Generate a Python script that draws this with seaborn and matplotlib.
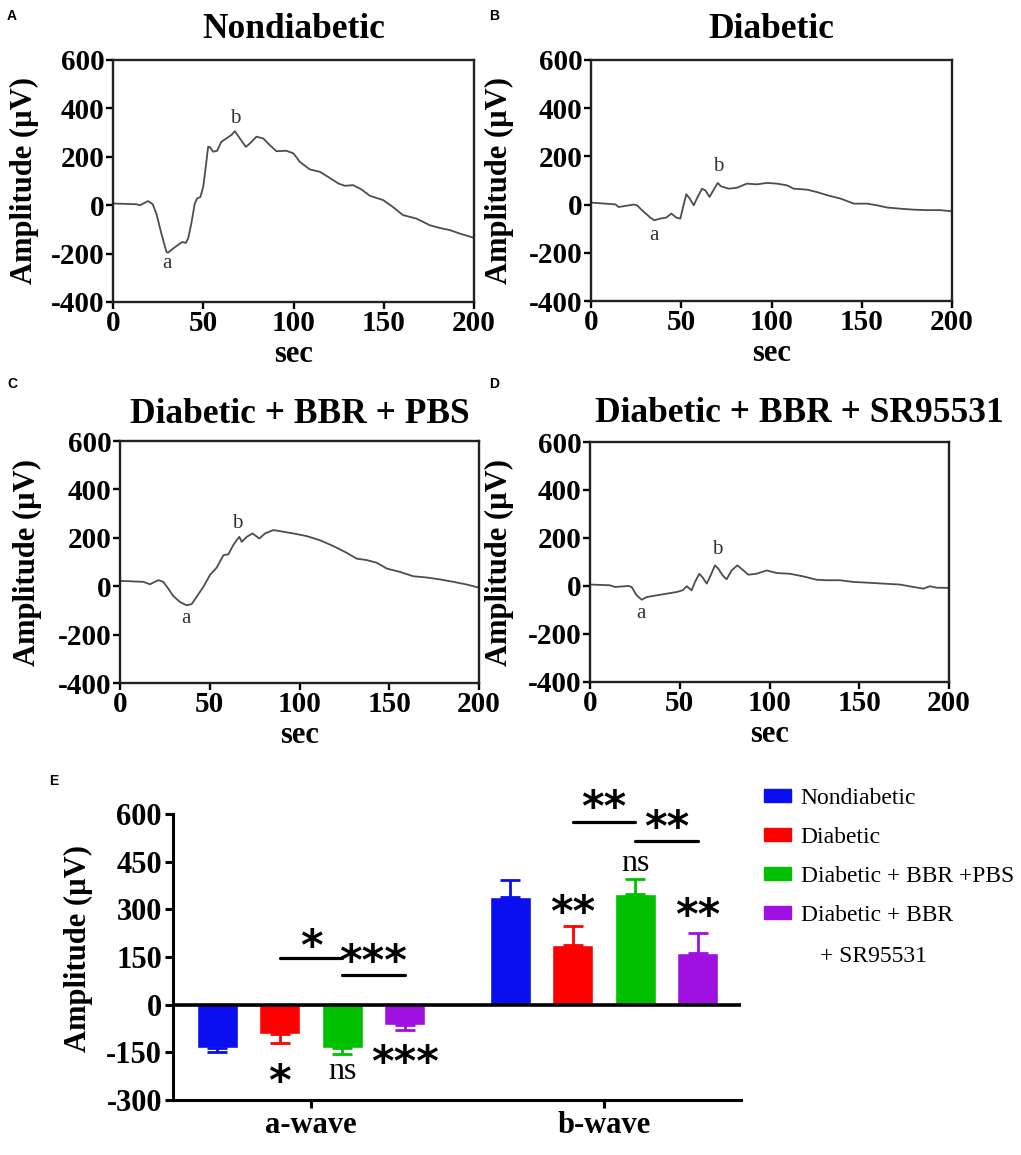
import matplotlib
matplotlib.use('Agg')
import pandas as pd
import matplotlib.pyplot as plt
import seaborn as sns
from matplotlib.patches import Patch

t_nondiab = [0, 13, 15, 19.4, 22, 24, 26.8, 29.6, 30.5, 33.3, 37, 38.4, 40.3, 41.6, 43.4, 45.3, 46.6,
             48.4, 50, 51.4, 52.7, 53.6, 55.5, 57.7, 60, 62.8, 65.6, 67.5, 69.9, 73.6, 75.8, 79.5,
             83.2, 86.9, 90.6, 96, 100, 103.5, 109, 114.6, 119.2, 124.8, 128.5, 133, 137.7, 142.3,
             149.7, 155, 160.7, 168, 175.6, 181, 186.7, 192, 200]
v_nondiab = [7, 4, 0, 17, 4, -34, -117, -193, -196, -179, -159, -152, -156, -138, -76, 7, 28,
             34, 76, 159, 241, 241, 221, 225, 262, 276, 290, 306, 280, 241, 255, 283,
             276, 248, 223, 225, 214, 179, 148, 138, 117, 90, 80, 83, 65, 39,
             21, -7, -41, -55, -83, -94, -103, -117, -135]

t_diab = [0.5, 13.5, 15.3, 23.6, 25.5, 29.2, 32.9, 35, 38.4, 41.7, 44.5, 47.3, 49.5, 51, 52.8, 54.7,
          56.9, 59.1, 61.5, 63.3, 65.7, 68.3, 70.2, 72, 76.3, 80.9, 86.4, 92, 97.5, 103, 108.6,
          112.3, 119.7, 125.2, 130.8, 138.2, 145.6, 153, 158.5, 164, 171.4, 178.8, 186, 193.5, 200]
v_diab = [8, 1, -10, 0, -3, -30, -54, -65, -58, -54, -37, -54, -58, -10, 43, 25,
          -3, 32, 66, 59, 32, 66, 90, 76, 66, 70, 87, 84, 90, 87, 80,
          66, 62, 52, 39, 25, 4, 4, -3, -12, -17, -21, -23, -23, -28]

t_pbs = [0, 13, 16.7, 21.4, 24.1, 26.9, 29.7, 33.4, 37.1, 39.9, 42.7, 46.4, 50.1, 53.9, 57.6, 60.4,
         63.1, 65, 66.5, 67.8, 70.6, 73.9, 77.6, 80.8, 85.4, 91, 96.6, 104, 111.4, 118.8, 126.3,
         131.8, 137.4, 143, 148.6, 156, 163.4, 170.8, 178.3, 185.7, 193.1, 200]
v_pbs = [22, 18, 8, 25, 18, -10, -41, -65, -79, -74, -44, -3, 46, 77, 128, 132,
         170, 190, 204, 183, 204, 218, 197, 218, 232, 225, 218, 207, 190, 166, 138,
         114, 108, 97, 73, 59, 41, 36, 28, 18, 7, -6]

t_sr = [0.4, 11.1, 13.9, 21.4, 23.2, 26, 28.8, 31.6, 37.1, 42.7, 48.3, 51.6, 53.9, 56.6, 58.5, 60.9,
        62.8, 65, 67.2, 69.6, 71.5, 73.9, 76.1, 78.9, 82.1, 85, 88.2, 92.8, 98.4, 104, 111.4,
        118.8, 126.3, 131.8, 139.3, 146.7, 154.2, 163.4, 172.7, 180.1, 185.7, 189.4, 193.1, 200]
v_sr = [6, 3, -4, 0, -4, -39, -57, -46, -39, -32, -25, -18, -1, -18, 17, 51,
        35, 10, 44, 86, 72, 44, 28, 65, 86, 68, 47, 51, 65, 54, 51,
        40, 26, 24, 24, 17, 14, 10, 6, -4, -11, -1, -7, -8]

titles = ['Nondiabetic', 'Diabetic', 'Diabetic + BBR + PBS', 'Diabetic + BBR + SR95531']
a_marks = [(30, -241), (34.7, -127), (36.6, -134), (28.4, -115)]
b_marks = [(67.5, 359), (70.2, 160), (65.5, 259), (70.6, 151)]

# Panel E summary values (mean and one-sided error, uV)
groups = ['Nondiabetic', 'Diabetic', 'Diabetic + BBR +PBS', 'Diabetic + BBR']
colors = ['#0a0ff0', '#ff0000', '#00c000', '#a010e0']
waves = ['a-wave', 'b-wave']
a_mean = [-136, -92, -136, -63]
a_err = [12, 28, 20, 18]
b_mean = [339, 189, 349, 164]
b_err = [54, 60, 45, 62]

# bracket comparisons: (bar i, bar j, line height, label, label height)
brackets = [(1, 2, 148, '*', 217), (2, 3, 94, '***', 170),
            (5, 6, 575, '**', 654), (6, 7, 516, '**', 591)]
# labels over single bars: (bar, label, height)
bar_marks = [(1, '*', -208), (2, 'ns', -208), (3, '***', -148),
             (5, '**', 324), (6, 'ns', 447), (7, '**', 314)]

sns.set_theme(style='ticks')
plt.rcParams['font.family'] = ['Liberation Serif', 'DejaVu Serif']
plt.rcParams['axes.unicode_minus'] = False
plt.rcParams['text.color'] = 'black'
plt.rcParams['axes.labelcolor'] = 'black'

W, H = 1021, 1155
fig = plt.figure(figsize=(W / 100, H / 100), dpi=100)


def px_axes(l, t, r, b):
    return fig.add_axes([l / W, 1 - b / H, (r - l) / W, (b - t) / H])


boxes = [(113, 60, 474, 302), (591, 60, 952, 301), (120, 441, 479, 683), (590, 442, 949, 682)]
title_pad = [16, 16, 13, 14.5]
title_x = [0.5, 0.5, 0.5, 0.582]
ylab_x = [-0.205, -0.213, -0.217, -0.212]
traces = [(t_nondiab, v_nondiab), (t_diab, v_diab), (t_pbs, v_pbs), (t_sr, v_sr)]

for i in range(4):
    ax = px_axes(*boxes[i])
    t, v = traces[i]
    sns.lineplot(x=t, y=v, ax=ax, color='#4d4d4d', lw=1.3)
    ax.set_xlim(0, 200)
    ax.set_ylim(-400, 600)
    ax.set_xticks(range(0, 201, 50))
    ax.set_yticks(range(-400, 601, 200))
    for s in ax.spines.values():
        s.set_linewidth(1.7)
        s.set_color('#222222')
    ax.tick_params(labelsize=21, width=1.7, length=5, pad=1, colors='black')
    plt.setp(ax.get_xticklabels() + ax.get_yticklabels(), fontweight='bold')
    ax.set_xlabel('sec', fontsize=22, fontweight='bold', labelpad=2)
    ax.set_ylabel('Amplitude (µV)', fontsize=22, fontweight='bold')
    ax.yaxis.set_label_coords(ylab_x[i], 0.5)
    ax.set_title(titles[i], fontsize=25.5, fontweight='bold', pad=title_pad[i], x=title_x[i],
                 color='black')
    ax.text(*a_marks[i], 'a', ha='center', va='center', fontsize=15, color='#333333')
    ax.text(*b_marks[i], 'b', ha='center', va='center', fontsize=15, color='#333333')

# Panel E
df = pd.DataFrame({
    'wave': [waves[0]] * 4 + [waves[1]] * 4,
    'group': groups * 2,
    'amp': a_mean + b_mean,
    'err': a_err + b_err,
})
axE = px_axes(173, 814, 741, 1100)
sns.barplot(data=df, x='wave', y='amp', hue='group', hue_order=groups, palette=colors,
            saturation=1, errorbar=None, width=0.853, gap=0.34, legend=False, ax=axE)
bars = sorted(axE.patches, key=lambda p: p.get_x())
xs = [p.get_x() + p.get_width() / 2 for p in bars]
for x, p, (_, row) in zip(xs, bars, df.iterrows()):
    yerr = [[0], [row['err']]] if row['amp'] > 0 else [[row['err']], [0]]
    axE.errorbar(x, row['amp'], yerr=yerr, fmt='none', ecolor=p.get_facecolor(),
                 elinewidth=2, capsize=7, capthick=2)

axE.axhline(0, color='black', lw=2.6, zorder=3)
axE.set_xlim(-0.471, 1.468)
axE.set_ylim(-300, 600)
axE.set_yticks(range(-300, 601, 150))
sns.despine(ax=axE)
for s in ['left', 'bottom']:
    axE.spines[s].set_linewidth(2.2)
    axE.spines[s].set_color('black')
axE.tick_params(labelsize=22, width=2.2, length=6, pad=2, colors='black')
plt.setp(axE.get_xticklabels() + axE.get_yticklabels(), fontweight='bold')
axE.set_xlabel('')
axE.set_ylabel('Amplitude (µV)', fontsize=22, fontweight='bold')
axE.yaxis.set_label_coords(-0.140, 0.53)

star_size = 31


def mark(x, y, s):
    if s == 'ns':
        axE.annotate(s, (x, y), xytext=(0, -6), textcoords='offset points', ha='center',
                     va='baseline', fontsize=23, annotation_clip=False)
    else:
        axE.annotate(s, (x, y), xytext=(0, -0.56 * star_size), textcoords='offset points',
                     ha='center', va='baseline', fontsize=star_size, fontweight='bold',
                     family='DejaVu Sans', annotation_clip=False)


for i, j, yl, s, ys in brackets:
    axE.plot([xs[i], xs[j]], [yl, yl], color='black', lw=2.3, clip_on=False)
    mark((xs[i] + xs[j]) / 2, ys, s)
for i, s, ys in bar_marks:
    mark(xs[i], ys, s)

handles = [Patch(facecolor=c, edgecolor=c) for c in colors]
axE.legend(handles, groups, loc='upper left', bbox_to_anchor=(764 / W, 1 - 788 / H),
           bbox_transform=fig.transFigure, frameon=False,
           prop={'family': 'Liberation Serif', 'size': 17},
           handlelength=1.15, handleheight=0.42, handletextpad=0.4,
           labelspacing=0.76, borderaxespad=0, borderpad=0)
fig.text(820 / W, 1 - 957 / H, '+ SR95531', va='center', ha='left', fontsize=17)

for letter, (px, py) in zip('ABCDE', [(12, 16), (494, 16), (12, 384), (494, 384), (54, 781)]):
    fig.text(px / W, 1 - py / H, letter, ha='center', va='center', fontsize=10,
             fontweight='bold', family='Liberation Sans')

fig.savefig('out.png', dpi=100)
